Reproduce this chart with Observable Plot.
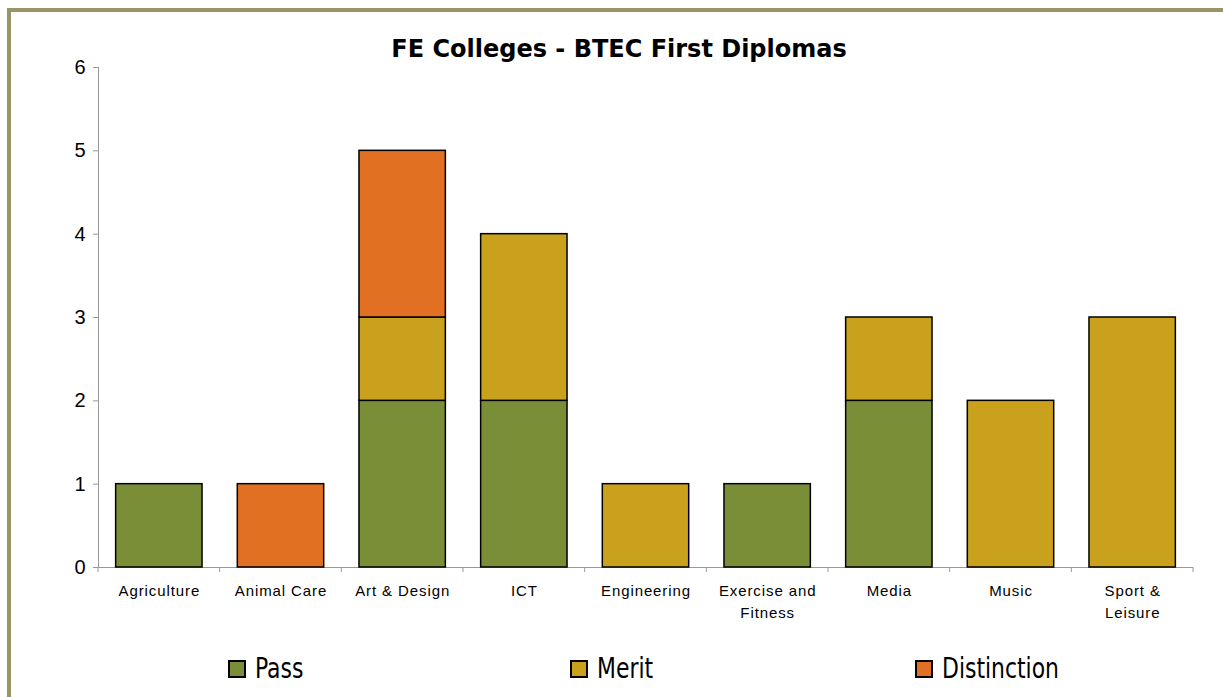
<!DOCTYPE html>
<html>
<head>
<meta charset="utf-8">
<script src="https://cdn.jsdelivr.net/npm/d3@7"></script>
<script src="https://cdn.jsdelivr.net/npm/@observablehq/plot@0.6"></script>
<style>
  html, body { margin: 0; padding: 0; background: #fff; }
  #wrap { position: relative; width: 1223px; height: 697px; overflow: hidden; background: #fff; }
  #frame { position: absolute; left: 7px; top: 8px; width: 1300px; height: 800px;
           border-left: 4px solid #9A9566; border-top: 4px solid #9A9566; z-index: 3; pointer-events: none; }
  #title { position: absolute; left: 619px; top: 37px; transform: translateX(-50%); white-space: nowrap;
           font-family: "DejaVu Sans", Verdana, sans-serif; font-weight: bold; font-size: 24px; line-height: 24px; color: #000; z-index: 2; }
  #chart { position: absolute; left: 0; top: 0; z-index: 1; }
  #chart svg { background: transparent; }
  #chart g[aria-label="x-axis tick label"] text { letter-spacing: 0.9px; }
  .lg { position: absolute; top: 655px; height: 28px; display: flex; align-items: center; z-index: 2;
        font-family: "DejaVu Sans Condensed", "Liberation Sans Narrow", sans-serif; font-size: 28px; line-height: 28px; color: #000; white-space: nowrap; }
  .lg span { display: inline-block; transform: scaleX(0.87); transform-origin: left center; }
  .sw { width: 14px; height: 14px; border: 2px solid #000; margin-right: 9px; flex: none; }
</style>
</head>
<body>
<div id="wrap">
  <div id="frame"></div>
  <div id="title">FE Colleges - BTEC First Diplomas</div>
  <div id="chart"></div>
</div>
<script>
const categories = ["Agriculture", "Animal Care", "Art & Design", "ICT", "Engineering", "Exercise and Fitness", "Media", "Music", "Sport & Leisure"];
const tickLabels = ["Agriculture", "Animal Care", "Art & Design", "ICT", "Engineering", "Exercise and\nFitness", "Media", "Music", "Sport &\nLeisure"];
const series = ["Pass", "Merit", "Distinction"];
const pass = [1, 0, 2, 2, 0, 1, 2, 0, 0];
const merit = [0, 0, 1, 2, 1, 0, 1, 2, 3];
const distinction = [0, 1, 2, 0, 0, 0, 0, 0, 0];
const colors = ["#7A8E37", "#C9A11C", "#E27022"];
const yTicks = [0, 1, 2, 3, 4, 5, 6];
const legendLeft = [228, 570, 915];

const valuesBySeries = [pass, merit, distinction];
const data = [];
series.forEach((s, si) => {
  categories.forEach((c, ci) => {
    const v = valuesBySeries[si][ci];
    if (v > 0) data.push({category: c, series: s, value: v});
  });
});

const plot = Plot.plot({
  width: 1223,
  height: 640,
  marginTop: 67,
  marginBottom: 73,
  marginLeft: 98,
  marginRight: 30,
  style: {fontFamily: "Liberation Sans, Arial, sans-serif", fontSize: "15px", color: "#000", background: "transparent"},
  x: {domain: categories, paddingInner: 0.29, paddingOuter: 0.145, round: false, axis: null},
  y: {domain: [0, 6], axis: null},
  color: {domain: series, range: colors},
  marks: [
    Plot.frame({anchor: "left", stroke: "#999"}),
    Plot.ruleY([0], {stroke: "#999"}),
    Plot.barY(data, {x: "category", y: "value", fill: "series", stroke: "#000", strokeWidth: 1.5}),
    Plot.axisY({ticks: yTicks, tickSize: 5, tickPadding: 8, stroke: "#999", fill: "#000", fontSize: 20, label: null,
      tickFormat: d => String(d)}),
    Plot.axisX({tickSize: 0, tickPadding: 13, fill: "#000", fontSize: 15, lineHeight: 1.47, label: null,
      tickFormat: d => tickLabels[categories.indexOf(d)]})
  ]
});

document.getElementById("chart").appendChild(plot);

// category boundary ticks on the x axis, derived from the band scale
const sx = plot.scale("x");
const sy = plot.scale("y");
const gap = (sx.step - sx.bandwidth) / 2;
const bounds = categories.map(c => sx.apply(c) - gap);
bounds.push(sx.apply(categories[categories.length - 1]) + sx.bandwidth + gap);
const y0 = sy.apply(0);
d3.select(plot).append("g").attr("aria-label", "x-boundary-ticks")
  .selectAll("line").data(bounds).join("line")
  .attr("x1", d => d).attr("x2", d => d)
  .attr("y1", y0).attr("y2", y0 + 5)
  .attr("stroke", "#999");

// legend
const wrap = document.getElementById("wrap");
series.forEach((s, i) => {
  const item = document.createElement("div");
  item.className = "lg";
  item.style.left = legendLeft[i] + "px";
  const sw = document.createElement("div");
  sw.className = "sw";
  sw.style.background = colors[i];
  const t = document.createElement("span");
  t.textContent = s;
  item.appendChild(sw);
  item.appendChild(t);
  wrap.appendChild(item);
});
</script>
</body>
</html>
